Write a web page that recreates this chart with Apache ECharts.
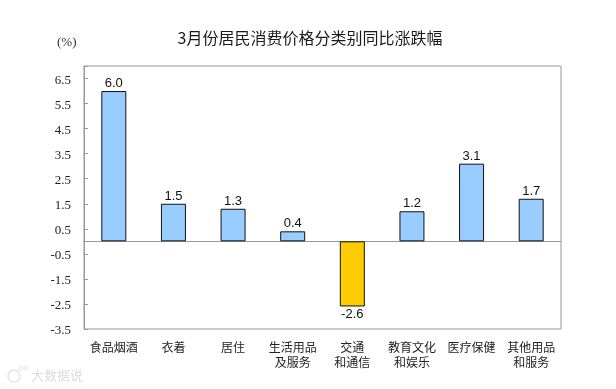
<!DOCTYPE html>
<html><head><meta charset="utf-8">
<style>html,body{margin:0;padding:0;background:#fff}#c{width:616px;height:389px}</style>
<script src="https://cdn.jsdelivr.net/npm/echarts@6/dist/echarts.min.js"></script>
</head><body><div id="c"></div>
<script>
const categories = ['食品烟酒','衣着','居住','生活用品\n及服务','交通\n和通信','教育文化\n和娱乐','医疗保健','其他用品\n和服务'];
const values = [6.0,1.5,1.3,0.4,-2.6,1.2,3.1,1.7];
const titleText = '3月份居民消费价格分类别同比涨跌幅';
const unitText = '(%)';
const cjk = '"Noto Sans CJK SC","Noto Sans",sans-serif';
const chart = echarts.init(document.getElementById('c'), null, {renderer:'canvas'});
chart.setOption({
  animation:false,
  backgroundColor:'#fff',
  title:{text:titleText,left:305,top:25,textAlign:'center',textStyle:{fontFamily:cjk,fontSize:16,fontWeight:'normal',color:'#1a1a1a'}},
  graphic:[
    {type:'text',left:57,top:36,style:{text:unitText,font:'13px "Liberation Serif",serif',fill:'#333'}},
    {type:'text',left:31,top:369,style:{text:'大数据说',font:'13px '+cjk,fill:'#dcdcdc'}},
    {type:'circle',shape:{cx:14,cy:376,r:6},style:{fill:'none',stroke:'#e4e4e4',lineWidth:1.5}},
    {type:'circle',shape:{cx:21,cy:368,r:2},style:{fill:'none',stroke:'#e4e4e4',lineWidth:1}},
    {type:'circle',shape:{cx:26,cy:368,r:2},style:{fill:'none',stroke:'#e4e4e4',lineWidth:1}}
  ],
  grid:{left:84,right:55,top:66,bottom:60,show:true,borderColor:'#999',borderWidth:1,backgroundColor:'#fff'},
  xAxis:[
    {type:'category',data:categories,position:'bottom',axisLine:{show:false,onZero:false},axisTick:{show:false},
     axisLabel:{interval:0,margin:11,lineHeight:15,fontFamily:cjk,fontSize:12,color:'#222'}},
    {type:'category',data:categories,axisLine:{show:true,onZero:true,lineStyle:{color:'#999',width:1}},axisTick:{show:false},axisLabel:{show:false}}
  ],
  yAxis:{type:'value',min:-3.5,max:7,interval:1,
    axisLine:{show:true,onZero:false,lineStyle:{color:'#999'}},
    axisTick:{show:true,inside:true,length:4,lineStyle:{color:'#999'}},
    splitLine:{show:false},
    axisLabel:{margin:13,verticalAlign:'top',lineHeight:4,fontFamily:'"Liberation Serif",serif',fontSize:13,color:'#222',
      formatter:v=>v===7?'':v.toFixed(1)}},
  series:[{type:'bar',xAxisIndex:0,barWidth:25,
    data:values.map(v=>({value:v,itemStyle:{color:v<0?'#FFCC00':'#99CCFF',borderColor:'#111',borderWidth:1}})),
    label:{show:true,position:'outside',distance:1,formatter:p=>p.value.toFixed(1),fontFamily:'"Liberation Sans",sans-serif',fontSize:13,color:'#111'}
  }]
});
</script></body></html>
